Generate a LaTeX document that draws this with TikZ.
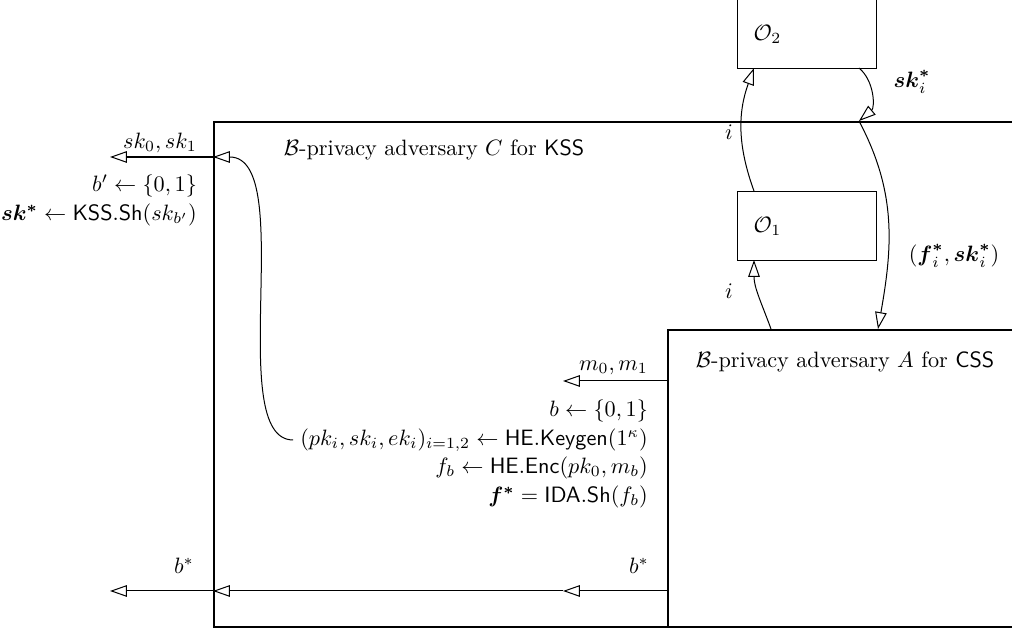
\documentclass[tikz,border=0pt]{standalone}
\usepackage{amsmath,amssymb}
\usepackage{tikz}
\usetikzlibrary{positioning, arrows.meta}

\begin{document}
\begin{tikzpicture}[
    x=0.45pt, y=0.45pt,
    frame/.style={rectangle, draw, line width=0.9pt, inner sep=0pt, anchor=north west},
    oracle/.style={rectangle, draw, line width=0.6pt, inner sep=0pt, anchor=north west, minimum width=62.6pt, minimum height=31pt},
    txt/.style={anchor=east, inner sep=3pt},
    arrow/.style={-{Triangle[open, length=7.6pt, width=5.2pt, line width=0.45pt]}, line width=0.45pt}
]

% Canvas
\useasboundingbox (0,0) rectangle (1012,634);
\clip (0,0) rectangle (1012,634);

% Adversaries
\node[frame, minimum width=368pt, minimum height=227.3pt] (C) at (213,513) {};
\node[frame, minimum width=164pt, minimum height=133.7pt] (A) at (667,305) {};
\node[anchor=west] (c_title) at (276,484) {$\mathcal{B}$-privacy adversary $C$ for \textsf{KSS}};
\node[anchor=west] (a_title) at (688,272) {$\mathcal{B}$-privacy adversary $A$ for \textsf{CSS}};

% Oracles
\node[oracle] (o2) at (737,635) {};
\node[oracle] (o1) at (737,443) {};
\node[right=4pt of o2.west] (o2_lbl) {$\mathcal{O}_2$};
\node[right=4pt of o1.west] (o1_lbl) {$\mathcal{O}_1$};

% Outside C
\node[txt] (sk_lbl) at (204,491) {$sk_0, sk_1$};
\node[txt] (bprime) at (204,448) {$b' \leftarrow \{0,1\}$};
\node[txt] (skstar) at (204,419) {$\boldsymbol{sk^*} \leftarrow \mathsf{KSS.Sh}(sk_{b'})$};
\node[txt] (bC_lbl) at (201,68) {$b^*$};

% Inside C
\node[txt] (m_lbl) at (655,266) {$m_0, m_1$};
\node[txt] (bsel) at (655,223) {$b \leftarrow \{0,1\}$};
\node[txt] (keygen) at (655,194) {$(pk_i, sk_i, ek_i)_{i=1,2} \leftarrow \mathsf{HE.Keygen}(1^\kappa)$};
\node[txt] (enc) at (655,166) {$f_b \leftarrow \mathsf{HE.Enc}(pk_0, m_b)$};
\node[txt] (share) at (655,137) {$\boldsymbol{f^*} = \mathsf{IDA.Sh}(f_b)$};
\node[txt] (bA_lbl) at (656,68) {$b^*$};

% Oracle labels
\node (i_low) at (729,343) {$i$};
\node (i_up) at (729,502) {$i$};
\node (sk_i) at (912,552) {$\boldsymbol{sk}_i^{\boldsymbol{*}}$};
\node (pair) at (954,378) {$(\boldsymbol{f}_i^{\boldsymbol{*}}, \boldsymbol{sk}_i^{\boldsymbol{*}})$};

% Ports
\coordinate (sk_in) at (213,477);
\coordinate (sk_out) at (110,477);
\coordinate (m_out) at (667,253);
\coordinate (m_in) at (563,253);
\coordinate (b_out) at (667,43);
\coordinate (b_mid) at (563,43);
\coordinate (b_in) at (213,43);
\coordinate (b_end) at (110,43);
\coordinate (q1) at (771,305);
\coordinate (q1_in) at (754,374);
\coordinate (q2) at (754,443);
\coordinate (q2_in) at (754,566);
\coordinate (ans) at (859,566);
\coordinate (ans_in) at (859,513);
\coordinate (ans_a) at (878,305);

% Paths
\draw[arrow, line width=0.75pt] (sk_in) -- (sk_out);
\draw[arrow] (keygen.west) .. controls +(-70,0) and +(85,0) .. (sk_in);
\draw[arrow] (m_out) -- (m_in);
\draw[arrow] (b_out) -- (b_mid);
\draw[arrow] (b_mid) -- (b_in);
\draw[arrow] (b_in) -- (b_end);
\draw[arrow] (q1) to[out=110, in=-90] (q1_in);
\draw[arrow] (q2) to[bend left=20] (q2_in);
\draw[arrow] (ans) to[bend left=50] (ans_in);
\draw[arrow] (ans_in) to[out=-62, in=80] (ans_a);

\end{tikzpicture}
\end{document}
